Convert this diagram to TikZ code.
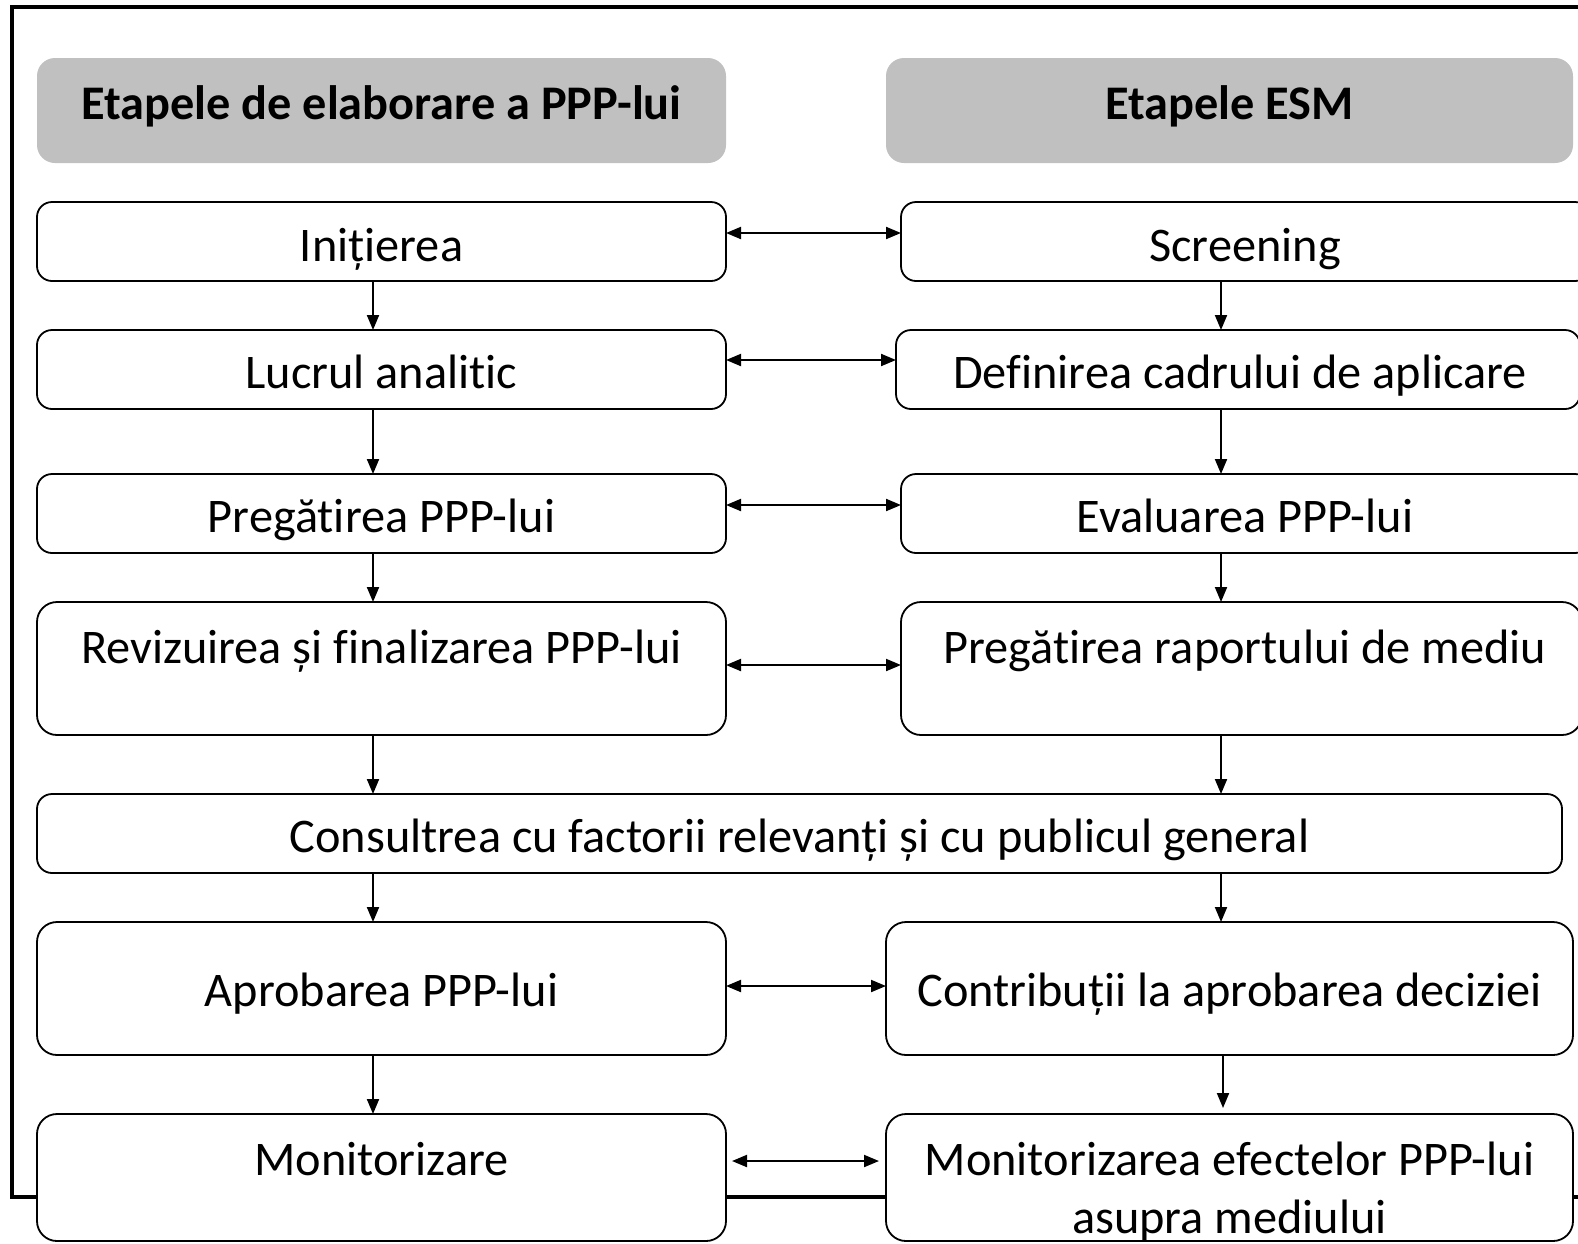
\documentclass[tikz,border=0pt]{standalone}
\usepackage{fontspec}
\setmainfont{Carlito}[RawFeature=-liga]
\usetikzlibrary{arrows.meta}
\definecolor{hdrgray}{RGB}{192,192,192}
\tikzset{
  box/.style={draw=black, line width=1.8pt, fill=white, rounded corners=15pt, inner sep=0pt, outer sep=0pt, anchor=north west},
  bigbox/.style={box, rounded corners=20pt},
  hdr/.style={fill=hdrgray, draw=none, rounded corners=18pt, inner sep=0pt, outer sep=0pt, anchor=north west},
  txt/.style={font=\fontsize{48.3}{58}\selectfont, inner sep=0pt, anchor=base, align=center},
  htxt/.style={txt, font=\fontsize{48.3}{58}\selectfont\bfseries},
  conn/.style={line width=2pt, -{Triangle[length=15pt,width=12pt]}},
  biconn/.style={line width=2pt, {Triangle[length=15pt,width=12pt]}-{Triangle[length=15pt,width=12pt]}},
}
\begin{document}
\begin{tikzpicture}[x=1pt,y=-1pt]
\useasboundingbox (0,0) rectangle (1578,1243);
\fill[white] (0,0) rectangle (1578,1243);
\begin{scope}
\clip (0,0) rectangle (1578,1243);
% outer frame
\draw[line width=4.5pt] (12,7) rectangle (1620,1197);
% headers
\node[hdr, minimum width=689pt, minimum height=105pt] (H1) at (37,58) {};
\node[hdr, minimum width=687pt, minimum height=105pt] (H2) at (886,58) {};
\node[htxt] (h1t) at (381.5,119) {Etapele de elaborare a PPP-lui};
\node[htxt] (h2t) at (1229.5,119) {Etapele ESM};
% boxes
\node[box, minimum width=689pt, minimum height=79pt] (L1) at (37,202) {};
\node[box, minimum width=689pt, minimum height=79pt] (R1) at (901,202) {};
\node[box, minimum width=689pt, minimum height=79pt] (L2) at (37,330) {};
\node[box, minimum width=684pt, minimum height=79pt] (R2) at (896,330) {};
\node[box, minimum width=689pt, minimum height=79pt] (L3) at (37,474) {};
\node[box, minimum width=689pt, minimum height=79pt] (R3) at (901,474) {};
\node[bigbox, minimum width=689pt, minimum height=133pt] (L4) at (37,602) {};
\node[bigbox, minimum width=681pt, minimum height=133pt] (R4) at (901,602) {};
\node[box, minimum width=1525pt, minimum height=79pt] (C) at (37,794) {};
\node[bigbox, minimum width=689pt, minimum height=133pt] (L6) at (37,922) {};
\node[bigbox, minimum width=687pt, minimum height=133pt] (R6) at (886,922) {};
\node[bigbox, minimum width=689pt, minimum height=127pt] (L7) at (37,1114) {};
\node[bigbox, minimum width=687pt, minimum height=127pt] (R7) at (886,1114) {};
% texts
\node[txt] (l1t) at (381.5,261) {Inițierea};
\node[txt] (r1t) at (1245,261) {Screening};
\node[txt] (l2t) at (381.5,388) {Lucrul analitic};
\node[txt] (r2t) at (1240,388) {Definirea cadrului de aplicare};
\node[txt] (l3t) at (381.5,532) {Pregătirea PPP-lui};
\node[txt] (r3t) at (1245,532) {Evaluarea PPP-lui};
\node[txt] (l4t) at (381.5,663) {Revizuirea și finalizarea PPP-lui};
\node[txt] (r4t) at (1245,663) {Pregătirea raportului de mediu};
\node[txt] (ct) at (799.5,852) {Consultrea cu factorii relevanți și cu publicul general};
\node[txt] (l6t) at (381.5,1006) {Aprobarea PPP-lui};
\node[txt] (r6t) at (1229.5,1006) {Contribuții la aprobarea deciziei};
\node[txt] (l7t) at (381.5,1175) {Monitorizare};
\node[txt] (r7t) at (1229.5,1233) {Monitorizarea efectelor PPP-lui\\asupra mediului};
% column coordinates
\coordinate (cl) at (373,0);
\coordinate (cr) at (1221,0);
\coordinate (cr2) at (1223,0);
% vertical arrows left
\draw[conn] (L1.south -| cl) -- (L2.north -| cl);
\draw[conn] (L2.south -| cl) -- (L3.north -| cl);
\draw[conn] (L3.south -| cl) -- (L4.north -| cl);
\draw[conn] (L4.south -| cl) -- (C.north -| cl);
\draw[conn] (C.south -| cl) -- (L6.north -| cl);
\draw[conn] (L6.south -| cl) -- (L7.north -| cl);
% vertical arrows right
\draw[conn] (R1.south -| cr) -- (R2.north -| cr);
\draw[conn] (R2.south -| cr) -- (R3.north -| cr);
\draw[conn] (R3.south -| cr) -- (R4.north -| cr);
\draw[conn] (R4.south -| cr) -- (C.north -| cr);
\draw[conn] (C.south -| cr) -- (R6.north -| cr);
\draw[conn, shorten >=6pt] (R6.south -| cr2) -- (R7.north -| cr2);
% horizontal double arrows
\draw[biconn] ([yshift=8.5pt]L1.east) -- ([yshift=8.5pt]R1.west);
\draw[biconn] ([yshift=9.5pt]L2.east) -- ([yshift=9.5pt]R2.west);
\draw[biconn] ([yshift=8.5pt]L3.east) -- ([yshift=8.5pt]R3.west);
\draw[biconn] ([yshift=3.5pt]L4.east) -- ([yshift=3.5pt]R4.west);
\draw[biconn] ([yshift=2.5pt]L6.east) -- ([yshift=2.5pt]R6.west);
\draw[biconn, shorten <=6pt, shorten >=7pt] ([yshift=16.5pt]L7.east) -- ([yshift=16.5pt]R7.west);
\end{scope}
\end{tikzpicture}
\end{document}
